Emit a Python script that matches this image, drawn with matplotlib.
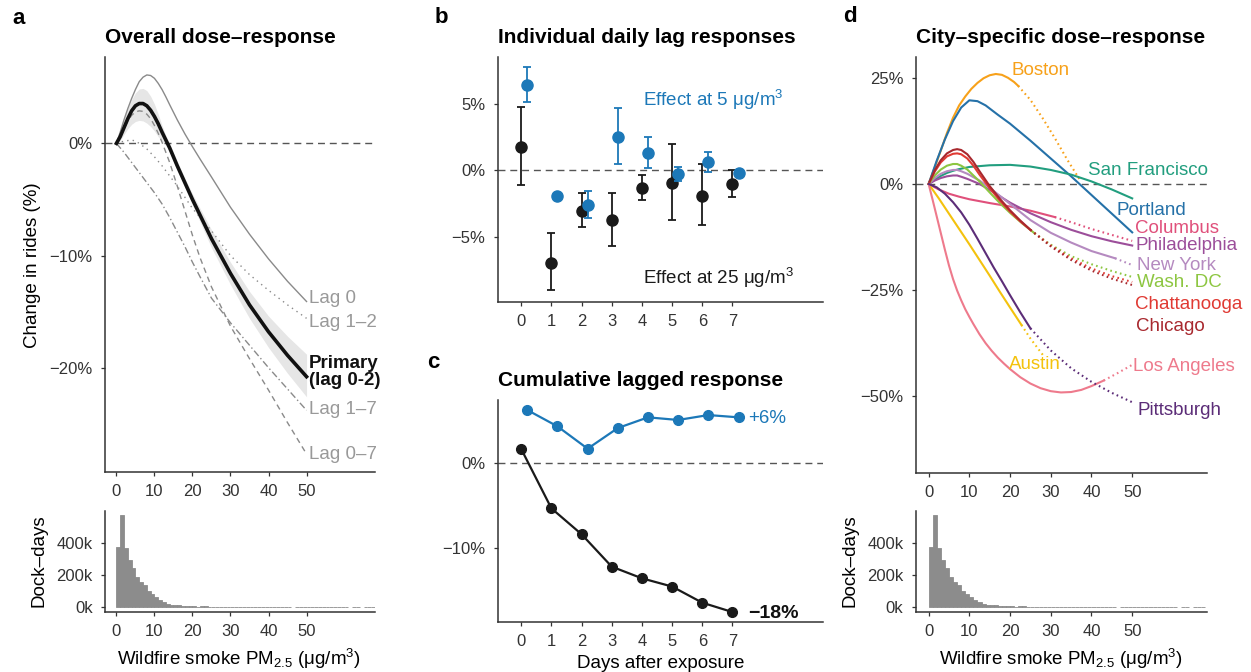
import matplotlib
matplotlib.use("Agg")
import matplotlib.pyplot as plt
import numpy as np

plt.rcParams["font.family"] = ["Liberation Sans", "DejaVu Sans"]
plt.rcParams["mathtext.fontset"] = "custom"
plt.rcParams["mathtext.rm"] = "Liberation Sans"
plt.rcParams["mathtext.it"] = "Liberation Sans:italic"
plt.rcParams["mathtext.bf"] = "Liberation Sans:bold"

# ---- panel a: overall dose-response (% change in rides) ----
pm = [0, 1, 2, 3, 4, 5, 6, 7, 8, 9, 10, 11, 12, 13, 14, 16, 18, 20, 22, 25, 30, 35, 40, 45, 50]
primary = [0, 0.6, 1.4, 2.2, 2.9, 3.35, 3.55, 3.55, 3.35, 2.95, 2.4, 1.75, 1.0, 0.3, -0.4,
           -2.0, -3.5, -5.0, -6.4, -8.5, -11.6, -14.4, -16.8, -18.9, -20.8]
primary_lo = [0, 0.25, 0.8, 1.3, 1.7, 1.95, 2.05, 2.0, 1.8, 1.5, 1.1, 0.6, 0.2, -0.2, -0.8,
              -2.4, -3.9, -5.5, -7.0, -9.3, -12.6, -15.6, -18.2, -20.5, -22.6]
primary_hi = [0, 1.0, 2.1, 3.1, 3.9, 4.5, 4.85, 4.9, 4.7, 4.2, 3.5, 2.6, 1.6, 0.7, 0.0,
              -1.6, -3.1, -4.5, -5.8, -7.7, -10.6, -13.2, -15.4, -17.2, -18.8]
lag0 = [0, 1.0, 2.1, 3.1, 4.0, 4.8, 5.5, 5.9, 6.1, 6.05, 5.8, 5.35, 4.8, 4.15, 3.45,
        2.1, 0.85, -0.3, -1.4, -3.0, -5.7, -8.1, -10.3, -12.3, -14.1]
lag12 = [0, 0.1, 0.2, 0.25, 0.3, 0.2, 0.0, -0.25, -0.5, -0.85, -1.2, -1.6, -2.0, -2.45, -2.9,
         -3.8, -4.8, -5.8, -6.6, -7.8, -10.0, -11.7, -13.1, -14.4, -15.6]
lag17 = [0, -0.4, -0.8, -1.25, -1.7, -2.15, -2.6, -3.05, -3.5, -3.95, -4.4, -4.9, -5.4, -6.0, -6.6,
         -7.9, -9.2, -10.6, -11.9, -13.8, -16.0, -18.0, -20.0, -21.9, -23.8]
lag07 = [0, 0.6, 1.3, 2.0, 2.5, 2.8, 2.9, 2.85, 2.6, 2.2, 1.6, 0.9, 0.1, -0.8, -1.7,
         -3.8, -6.0, -8.2, -10.2, -12.8, -16.3, -19.2, -22.0, -24.9, -27.7]

# dock-days histogram (thousands), 1 ug/m3 bins starting at 0
dock_bins = list(range(68))
dock_days = [375, 571, 365, 293, 241, 186, 159, 138, 103, 82,
             62, 45, 31, 19, 14, 14, 12, 8, 6, 6,
             7, 5, 9, 9, 4, 4, 3, 3, 3, 3,
             3, 2, 2, 2, 2, 2, 2, 2, 2, 2,
             2, 2, 2, 2, 2, 2, 0, 2, 2, 2,
             2, 2, 2, 2, 1, 1, 1, 1, 1, 1,
             1, 0, 1, 1, 0, 1, 1, 1]

# ---- panel b: individual lag effects ----
lags = [0, 1, 2, 3, 4, 5, 6, 7]
eff25 = [1.76, -6.96, -3.07, -3.77, -1.33, -0.96, -1.93, -1.03]
eff25_lo = [-1.13, -9.04, -4.27, -5.73, -2.28, -3.77, -4.14, -2.06]
eff25_hi = [4.77, -4.77, -1.76, -1.71, -0.35, 1.96, 0.43, 0.0]
eff5 = [6.40, -1.93, -2.61, 2.51, 1.28, -0.30, 0.60, -0.23]
eff5_lo = [5.13, -2.00, -3.64, 0.45, 0.13, -0.83, -0.15, -0.30]
eff5_hi = [7.74, -1.86, -1.61, 4.65, 2.49, 0.25, 1.36, -0.16]

# ---- panel c: cumulative ----
cum5 = [6.27, 4.35, 1.72, 4.15, 5.41, 5.10, 5.68, 5.41]
cum25 = [1.68, -5.30, -8.35, -12.16, -13.53, -14.50, -16.40, -17.50]

# ---- panel d: city curves (solid part, then dotted extrapolation) ----
bos_x = [0, 1.5, 3, 4.5, 6, 7.5, 9, 10.5, 12, 13.5, 15, 16.5, 18, 19.5, 21, 22]
bos_y = [0, 3.9, 7.9, 12.0, 15.6, 18.5, 20.6, 22.4, 23.8, 24.9, 25.6, 25.9, 25.7, 25.0, 24.0, 23.1]
bos_xd = [22, 25, 28, 31, 34, 37]
bos_yd = [23.1, 19.8, 15.5, 10.8, 5.8, 1.2]
por_x = [0, 2, 4, 6, 8, 10, 12, 14, 17, 20, 25, 30, 35, 40, 45, 50]
por_y = [0, 5.5, 10.5, 14.8, 18.0, 19.7, 19.5, 18.5, 16.3, 14.2, 10.2, 6.0, 1.8, -2.6, -7.0, -11.4]
sf_x = [0, 1.5, 3, 4.5, 6, 7.5, 10, 15, 20, 25, 30, 35, 40, 45, 50]
sf_y = [0, 1.0, 1.9, 2.6, 3.1, 3.5, 4.0, 4.4, 4.5, 4.1, 3.3, 2.2, 0.6, -1.3, -3.4]
col_x = [0, 2.5, 5, 7.5, 10, 15, 20, 25, 31]
col_y = [0, -1.3, -2.3, -3.0, -3.6, -4.5, -5.3, -6.3, -7.8]
col_xd = [31, 35, 40, 45, 50]
col_yd = [-7.8, -9.0, -10.6, -12.0, -13.4]
phi_x = [0, 1.5, 3, 4.5, 6, 7, 8, 9.5, 11, 12.5, 15, 20, 25, 30, 35, 40, 45, 50]
phi_y = [0, 0.8, 1.4, 1.8, 2.0, 2.0, 1.7, 1.2, 0.6, 0.0, -1.4, -4.4, -6.9, -9.0, -10.8, -12.3, -13.5, -14.5]
ny_x = [0, 1.5, 3, 4.5, 6, 7, 8, 9.5, 11, 12.5, 15, 17.5, 20, 25, 30, 35, 40, 45.8]
ny_y = [0, 1.4, 2.4, 3.0, 3.3, 3.3, 3.0, 2.4, 1.6, 0.8, -0.9, -2.8, -4.7, -8.5, -11.5, -13.8, -15.8, -17.5]
ny_xd = [45.8, 50]
ny_yd = [-17.5, -19.1]
dc_x = [0, 1.5, 3, 4.5, 6, 7, 8, 9.5, 11, 12.5, 15, 17.5, 20, 23, 26]
dc_y = [0, 2.0, 3.4, 4.3, 4.7, 4.7, 4.3, 3.4, 2.0, 0.6, -2.0, -4.5, -6.8, -9.3, -11.6]
dc_xd = [26, 30, 35, 40, 45, 50]
dc_yd = [-11.6, -14.3, -17.0, -18.9, -20.5, -21.9]
cha_x = [0, 1.5, 3, 4.5, 6, 7, 8, 9.5, 11, 12.5, 15, 17.5, 20, 22.5, 25]
cha_y = [0, 2.9, 5.1, 6.5, 7.1, 7.2, 7.0, 6.0, 4.3, 2.2, -1.0, -3.9, -6.5, -8.8, -10.8]
cha_xd = [25, 30, 35, 40, 45, 50]
cha_yd = [-10.8, -14.5, -17.5, -19.9, -21.7, -23.1]
chi_x = [0, 1.5, 3, 4.5, 6, 7, 8, 9.5, 11, 12.5, 15, 17.5, 20, 22.5, 25]
chi_y = [0, 3.2, 5.6, 7.2, 8.0, 8.2, 8.0, 7.0, 5.2, 3.0, -0.5, -3.5, -6.2, -8.6, -10.8]
chi_xd = [25, 30, 35, 40, 45, 50]
chi_yd = [-10.8, -14.7, -17.9, -20.4, -22.3, -23.8]
aus_x = [0, 2.5, 5, 7.5, 10, 12.5, 15, 17.5, 20, 22.8]
aus_y = [0, -3.4, -7.0, -10.6, -14.2, -17.9, -21.6, -25.4, -29.1, -33.2]
aus_xd = [22.8, 25, 28.4]
aus_yd = [-33.2, -36.4, -40.7]
la_x = [0, 1, 2, 3, 4, 5, 6, 7, 8, 9, 10, 11, 12.5, 14, 15.5, 17, 18.5, 20,
        22.5, 25, 27.5, 30, 32.5, 35, 37.5, 40, 43]
la_y = [0, -3.8, -7.7, -11.6, -15.5, -19.2, -22.4, -25.1, -27.4, -29.5, -31.3, -33.0, -35.4, -37.5,
        -39.3, -40.9, -42.3, -43.6, -45.5, -47.0, -48.1, -48.8, -49.1, -49.0, -48.5, -47.6, -46.3]
la_xd = [43, 46.5, 50]
la_yd = [-46.3, -44.5, -42.6]
pit_x = [0, 2, 4, 6, 8, 10, 12, 14, 16, 18, 20, 22.5, 25]
pit_y = [0, -0.8, -2.3, -4.3, -6.7, -9.6, -12.9, -16.3, -19.7, -22.9, -26.2, -30.2, -34.0]
pit_xd = [25, 30, 35, 40, 45, 50]
pit_yd = [-34.0, -39.2, -43.4, -46.6, -49.2, -51.4]

BLUE = "#1C78B8"
TXT = "#333333"
W, H = 1251, 672
fig = plt.figure(figsize=(W / 100, H / 100), dpi=100)


def px_ax(l, t, r, b):
    return fig.add_axes([l / W, 1 - b / H, (r - l) / W, (b - t) / H])


def ftext(x, y, s, **kw):
    return fig.text(x / W, 1 - y / H, s, **kw)


def style(ax):
    for s in ["top", "right"]:
        ax.spines[s].set_visible(False)
    for s in ["left", "bottom"]:
        ax.spines[s].set_color(TXT)
        ax.spines[s].set_linewidth(1.1)
    ax.tick_params(direction="out", length=3, width=0.9, color=TXT,
                   labelsize=12, labelcolor=TXT, pad=6)


def zero_line(ax):
    ax.axhline(0, color="#555555", lw=1, dashes=(5, 3.5), zorder=1)


def dock_hist(ax, xlim):
    keep = [i for i, v in enumerate(dock_days) if v > 0]
    ax.bar([dock_bins[i] for i in keep], [dock_days[i] for i in keep], width=1,
           align="edge", color="#8c8c8c", edgecolor="#8c8c8c", lw=0.6)
    ax.set_xlim(*xlim)
    ax.set_ylim(-27, 598)
    ax.set_yticks([0, 200, 400])
    ax.set_yticklabels(["0k", "200k", "400k"])
    ax.set_xticks([0, 10, 20, 30, 40, 50])
    style(ax)


# ================= a =================
axA = px_ax(105, 57, 375, 472)
axA.fill_between(pm, primary_lo, primary_hi, color="#e6e6e6", lw=0, zorder=1)
zero_line(axA)
axA.plot(pm, lag0, color="#8a8a8a", lw=1.0)
axA.plot(pm, lag12, color="#8a8a8a", lw=1.0, ls=(0, (1, 3)))
axA.plot(pm, lag17, color="#8a8a8a", lw=1.0, ls=(0, (5, 2, 1, 2)))
axA.plot(pm, lag07, color="#8a8a8a", lw=1.0, ls=(0, (4, 3)))
axA.plot(pm, primary, color="#111111", lw=2.6, zorder=5)
axA.set_xlim(-3, 68)
axA.set_ylim(-29.3, 7.7)
axA.set_xticks([0, 10, 20, 30, 40, 50])
axA.set_yticks([0, -10, -20])
axA.set_yticklabels(["0%", "\u221210%", "\u221220%"])
style(axA)
lab_kw = dict(fontsize=13.5, color="#999999", va="center", ha="left")
axA.text(50.7, -13.8, "Lag 0", **lab_kw)
axA.text(50.7, -16.0, "Lag 1\u20132", **lab_kw)
axA.text(50.7, -20.4, "Primary\n(lag 0-2)", fontsize=13.5, fontweight="bold",
         color="#111111", va="center", ha="left", linespacing=1.0)
axA.text(50.7, -23.7, "Lag 1\u20137", **lab_kw)
axA.text(50.7, -27.7, "Lag 0\u20137", **lab_kw)
axA.set_title("Overall dose\u2013response", loc="left", fontsize=15,
              fontweight="bold", pad=10)

axAh = px_ax(105, 510.7, 375, 611.7)
dock_hist(axAh, (-3, 68))

# ================= b =================
axB = px_ax(497.7, 57, 823, 301.7)
zero_line(axB)
axB.errorbar(lags, eff25,
             yerr=[np.subtract(eff25, eff25_lo), np.subtract(eff25_hi, eff25)],
             fmt="o", color="#1a1a1a", ms=8, elinewidth=1.3, capsize=3, capthick=1.3, zorder=3)
axB.errorbar(np.add(lags, 0.2), eff5,
             yerr=[np.subtract(eff5, eff5_lo), np.subtract(eff5_hi, eff5)],
             fmt="o", color=BLUE, ms=8, elinewidth=1.3, capsize=3, capthick=1.3, zorder=4)
axB.set_xlim(-0.78, 10)
axB.set_ylim(-9.9, 8.5)
axB.set_xticks(lags)
axB.set_yticks([5, 0, -5])
axB.set_yticklabels(["5%", "0%", "\u22125%"])
style(axB)
axB.text(4.02, 4.82, "Effect at 5 \u03bcg/m$^3$", color=BLUE, fontsize=13.5, va="baseline")
axB.text(4.02, -8.54, "Effect at 25 \u03bcg/m$^3$", color="#1a1a1a", fontsize=13.5, va="baseline")
axB.set_title("Individual daily lag responses", loc="left", fontsize=15,
              fontweight="bold", pad=10)

# ================= c =================
axC = px_ax(497.7, 400, 823, 622)
zero_line(axC)
axC.plot(lags, cum25, "-o", color="#1a1a1a", lw=1.6, ms=7, zorder=3)
axC.plot(np.add(lags, 0.2), cum5, "-o", color=BLUE, lw=1.6, ms=7, zorder=3)
axC.set_xlim(-0.78, 10)
axC.set_ylim(-18.67, 7.45)
axC.set_xticks(lags)
axC.set_yticks([0, -10])
axC.set_yticklabels(["0%", "\u221210%"])
style(axC)
axC.text(7.52, 5.3, "+6%", color=BLUE, fontsize=13.5, va="center")
axC.text(7.52, -17.65, "\u221218%", color="#111111", fontsize=14,
         fontweight="bold", va="center")
axC.set_title("Cumulative lagged response", loc="left", fontsize=15,
              fontweight="bold", pad=10)

# ================= d =================
axD = px_ax(916, 57, 1206.7, 472.7)
zero_line(axD)
cities = [
    ("Boston", "#F7A11A", bos_x, bos_y, bos_xd, bos_yd, (20.4, 26.8)),
    ("Portland", "#2571A8", por_x, por_y, [], [], (46.2, -6.3)),
    ("San Francisco", "#229E7F", sf_x, sf_y, [], [], (39.2, 3.1)),
    ("Columbus", "#E0507B", col_x, col_y, col_xd, col_yd, (50.7, -10.4)),
    ("Philadelphia", "#9C4E9A", phi_x, phi_y, [], [], (50.7, -14.6)),
    ("New York", "#B58AC0", ny_x, ny_y, ny_xd, ny_yd, (51.3, -19.2)),
    ("Wash. DC", "#8DC641", dc_x, dc_y, dc_xd, dc_yd, (51.3, -23.2)),
    ("Chattanooga", "#E03A33", cha_x, cha_y, cha_xd, cha_yd, (50.7, -28.3)),
    ("Chicago", "#A8282E", chi_x, chi_y, chi_xd, chi_yd, (51.0, -33.6)),
    ("Austin", "#F4C20D", aus_x, aus_y, aus_xd, aus_yd, (19.7, -42.6)),
    ("Los Angeles", "#EE7A8C", la_x, la_y, la_xd, la_yd, (50.3, -42.9)),
    ("Pittsburgh", "#5C2D78", pit_x, pit_y, pit_xd, pit_yd, (51.3, -53.4)),
]
for name, c, x, y, xd, yd, (tx, ty) in cities:
    axD.plot(x, y, color=c, lw=1.5, solid_joinstyle="round")
    if xd:
        axD.plot(xd, yd, color=c, lw=1.5, ls=(0, (0.8, 1.6)))
    axD.text(tx, ty, name, color=c, fontsize=13.5, va="center", ha="left")
axD.set_xlim(-3.1, 68.3)
axD.set_ylim(-68, 29.9)
axD.set_xticks([0, 10, 20, 30, 40, 50])
axD.set_yticks([25, 0, -25, -50])
axD.set_yticklabels(["25%", "0%", "\u221225%", "\u221250%"])
style(axD)
axD.set_title("City\u2013specific dose\u2013response", loc="left", fontsize=15,
              fontweight="bold", pad=10)

axDh = px_ax(916, 510.7, 1206.7, 611.7)
dock_hist(axDh, (-3.1, 68.3))

# ---- figure-level labels ----
ftext(32.5, 265, "Change in rides (%)", rotation=90, ha="center", va="center", fontsize=13.5)
ftext(39, 561, "Dock\u2013days", rotation=90, ha="center", va="center", fontsize=13.5)
ftext(850, 561, "Dock\u2013days", rotation=90, ha="center", va="center", fontsize=13.5)
xlab = "Wildfire smoke PM$_{2.5}$ (\u03bcg/m$^3$)"
ftext(239, 665, xlab, ha="center", va="baseline", fontsize=13.5)
ftext(1061, 665, xlab, ha="center", va="baseline", fontsize=13.5)
ftext(661, 668, "Days after exposure", ha="center", va="baseline", fontsize=13.5)

for lx, ly, s in [(12, 18.5, "a"), (435, 17.5, "b"), (427, 362, "c"), (843, 17, "d")]:
    ftext(lx, ly, s, fontsize=16, fontweight="bold", ha="left", va="center")

fig.savefig("out.png", dpi=100)
